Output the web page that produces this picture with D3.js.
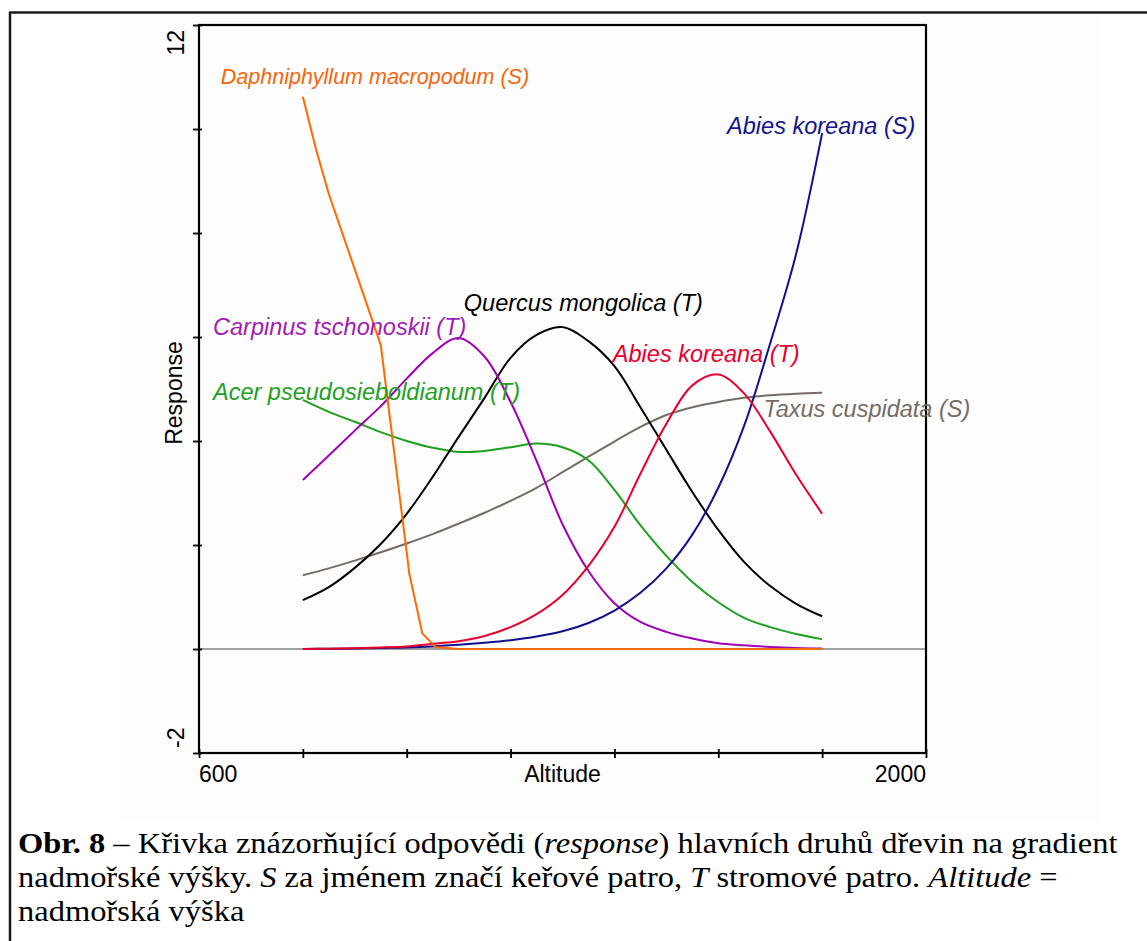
<!DOCTYPE html>
<html>
<head>
<meta charset="utf-8">
<script src="https://cdn.jsdelivr.net/npm/d3@7"></script>
<style>
  html, body { margin: 0; padding: 0; background: #ffffff; }
  svg { display: block; }
</style>
</head>
<body>
<svg id="chart" width="1147" height="941"></svg>
<script>
// Altitude grid (m a.s.l.) on which the fitted responses are tabulated
const altitudeGrid = [800, 850, 900, 950, 1000, 1050, 1100, 1150, 1200, 1250, 1300,
                      1350, 1400, 1450, 1500, 1550, 1600, 1650, 1700, 1750, 1800];

// Fitted responses of the main woody species
const carpinusT = [3.25, 3.72, 4.2, 4.67, 5.2, 5.69, 5.98, 5.62, 4.75, 3.62, 2.4,
                   1.5, 0.88, 0.52, 0.33, 0.2, 0.11, 0.07, 0.04, 0.02, 0.01];
const quercusT  = [0.94, 1.19, 1.56, 2.02, 2.6, 3.31, 4.08, 4.83, 5.6, 6.04, 6.19,
                   5.92, 5.44, 4.65, 3.83, 3.02, 2.29, 1.67, 1.21, 0.87, 0.63];
const acerT     = [4.79, 4.56, 4.37, 4.17, 4.0, 3.87, 3.79, 3.81, 3.88, 3.95, 3.88,
                   3.63, 3.06, 2.38, 1.79, 1.29, 0.9, 0.6, 0.42, 0.29, 0.19];
const taxusS    = [1.42, 1.55, 1.7, 1.86, 2.03, 2.21, 2.41, 2.62, 2.85, 3.1, 3.4,
                   3.7, 3.99, 4.27, 4.5, 4.65, 4.75, 4.83, 4.88, 4.91, 4.93];
const abiesT    = [0.0, 0.005, 0.015, 0.03, 0.05, 0.1, 0.15, 0.25, 0.42, 0.67, 1.04,
                   1.6, 2.35, 3.37, 4.33, 5.07, 5.28, 4.91, 4.18, 3.35, 2.6];
const abiesS    = [0.0, 0.005, 0.01, 0.02, 0.03, 0.05, 0.08, 0.12, 0.17, 0.24, 0.34,
                   0.5, 0.74, 1.08, 1.55, 2.2, 3.1, 4.3, 5.88, 7.6, 9.92];

// Daphniphyllum drops out quickly, so it has its own altitude points
const daphniAltitude = [800, 825, 850, 900, 950, 1005, 1030, 1055, 1100, 1800];
const daphniS        = [10.62, 9.62, 8.75, 7.3, 5.85, 1.45, 0.3, 0.04, 0.0, 0.0];

// Species names as printed beside the curves
const speciesNames = [
  "Daphniphyllum macropodum (S)",
  "Abies koreana (S)",
  "Quercus mongolica (T)",
  "Carpinus tschonoskii (T)",
  "Abies koreana (T)",
  "Acer pseudosieboldianum (T)",
  "Taxus cuspidata (S)"
];

// Axis ticks and tick labels
const yTicks = [12, 10, 8, 6, 4, 2, 0, -2];
const xTicks = [600, 800, 1000, 1200, 1400, 1600, 1800, 2000];
const yTickLabels = ["12", "-2"];
const xTickLabels = ["600", "2000"];
const xTitle = "Altitude";
const yTitle = "Response";

// ------------------------------------------------------------------
const svg = d3.select("#chart");
const W = 1147, H = 941;
const box = { left: 199, right: 926, top: 25, bottom: 753 };

const x = d3.scaleLinear().domain([600, 2000]).range([box.left, box.right]);
const y = d3.scaleLinear().domain([-2, 12]).range([box.bottom, box.top]);

// faint backdrop of the embedded figure
svg.append("rect").attr("x", 120).attr("y", 14).attr("width", 980).attr("height", 806)
  .attr("fill", "#fdfdfd");

// page frame (top and left rule)
svg.append("line").attr("x1", 9).attr("x2", W).attr("y1", 12.5).attr("y2", 12.5)
  .attr("stroke", "#1a1a1a").attr("stroke-width", 2.5);
svg.append("line").attr("x1", 10).attr("x2", 10).attr("y1", 12).attr("y2", H)
  .attr("stroke", "#1a1a1a").attr("stroke-width", 2.5);

const labelFont = "'Liberation Sans', Arial, sans-serif";

// zero reference line
svg.append("line")
  .attr("x1", x(600)).attr("x2", x(2000)).attr("y1", y(0)).attr("y2", y(0))
  .attr("stroke", "#808080").attr("stroke-width", 1.5);

// curves
const series = [
  { values: taxusS,    color: "#766c64" },
  { values: acerT,     color: "#1ea01e" },
  { values: quercusT,  color: "#000000" },
  { values: carpinusT, color: "#a000b4" },
  { values: abiesS,    color: "#10108c" },
  { values: abiesT,    color: "#e6002e" }
];

const smoothLine = d3.line()
  .x(d => x(d[0])).y(d => y(d[1]))
  .curve(d3.curveCatmullRom.alpha(0.5));

const plot = svg.append("g");
series.forEach(s => {
  plot.append("path")
    .datum(altitudeGrid.map((a, i) => [a, s.values[i]]))
    .attr("d", smoothLine)
    .attr("fill", "none")
    .attr("stroke", s.color)
    .attr("stroke-width", 2)
    .attr("stroke-linejoin", "round");
});

const straightLine = d3.line().x(d => x(d[0])).y(d => y(d[1]));
plot.append("path")
  .datum(daphniAltitude.map((a, i) => [a, daphniS[i]]))
  .attr("d", straightLine)
  .attr("fill", "none")
  .attr("stroke", "#ff6a00")
  .attr("stroke-width", 2)
  .attr("stroke-linejoin", "round");

// plot box
svg.append("rect")
  .attr("x", box.left).attr("y", box.top)
  .attr("width", box.right - box.left).attr("height", box.bottom - box.top)
  .attr("fill", "none").attr("stroke", "#000").attr("stroke-width", 2.2);

// axes (ticks crossing the frame)
const yAxis = svg.append("g").attr("transform", `translate(${box.left},0)`)
  .call(d3.axisLeft(y).tickValues(yTicks).tickSize(6).tickFormat(""));
yAxis.select(".domain").remove();
yAxis.selectAll(".tick line").attr("x1", 3).attr("stroke-width", 1.8);

const xAxis = svg.append("g").attr("transform", `translate(0,${box.bottom})`)
  .call(d3.axisBottom(x).tickValues(xTicks).tickSize(5).tickFormat(""));
xAxis.select(".domain").remove();
xAxis.selectAll(".tick line").attr("y1", -4).attr("stroke-width", 1.8);

// tick labels
const axisText = { "font-family": labelFont, "font-size": "23px", fill: "#000" };
function styled(sel, st) { Object.entries(st).forEach(([k, v]) => sel.attr(k, v)); return sel; }

styled(svg.append("text"), axisText)
  .attr("transform", `translate(183.5,${box.top + 5}) rotate(-90)`)
  .attr("text-anchor", "end").text(yTickLabels[0]);
styled(svg.append("text"), axisText)
  .attr("transform", `translate(183.5,${box.bottom - 5}) rotate(-90)`)
  .attr("text-anchor", "start").text(yTickLabels[1]);
styled(svg.append("text"), axisText)
  .attr("x", box.left).attr("y", 782).attr("text-anchor", "start").text(xTickLabels[0]);
styled(svg.append("text"), axisText)
  .attr("x", box.right).attr("y", 782).attr("text-anchor", "end").text(xTickLabels[1]);
styled(svg.append("text"), axisText)
  .attr("x", (box.left + box.right) / 2).attr("y", 782).attr("text-anchor", "middle").text(xTitle);
styled(svg.append("text"), axisText)
  .attr("transform", `translate(181.5,${(box.top + box.bottom) / 2 + 4}) rotate(-90)`)
  .attr("text-anchor", "middle").text(yTitle);

// species labels, anchored in data coordinates (altitude, response)
const labelSpots = [
  { alt: 642,  resp: 10.87, size: 21.5, color: "#f5650a" },
  { alt: 1617, resp: 9.9,   size: 23.5, color: "#14148c" },
  { alt: 1110, resp: 6.5,   size: 23.5, color: "#000000" },
  { alt: 627,  resp: 6.04,  size: 23.5, color: "#a01cb4" },
  { alt: 1397, resp: 5.51,  size: 23.5, color: "#e6002e" },
  { alt: 627,  resp: 4.78,  size: 23.5, color: "#22a022" },
  { alt: 1687, resp: 4.46,  size: 23.5, color: "#766c64" }
];
labelSpots.forEach((p, i) => {
  svg.append("text")
    .attr("x", x(p.alt)).attr("y", y(p.resp))
    .attr("font-family", labelFont).attr("font-size", p.size + "px")
    .attr("font-style", "italic").attr("fill", p.color)
    .text(speciesNames[i]);
});

// caption
const cap = svg.append("g").attr("font-family", "'Liberation Serif', 'Times New Roman', serif")
  .attr("font-size", "30px").attr("fill", "#000");
const l1 = cap.append("text").attr("x", 0).attr("y", 0);
l1.append("tspan").attr("font-weight", "bold").text("Obr. 8");
l1.append("tspan").text(" – Křivka znázorňující odpovědi (");
l1.append("tspan").attr("font-style", "italic").text("response");
l1.append("tspan").text(") hlavních druhů dřevin na gradient");
const l2 = cap.append("text").attr("x", 0).attr("y", 34);
l2.append("tspan").text("nadmořské výšky. ");
l2.append("tspan").attr("font-style", "italic").text("S");
l2.append("tspan").text(" za jménem značí keřové patro, ");
l2.append("tspan").attr("font-style", "italic").text("T");
l2.append("tspan").text(" stromové patro. ");
l2.append("tspan").attr("font-style", "italic").text("Altitude");
l2.append("tspan").text(" =");
cap.append("text").attr("x", 0).attr("y", 68).text("nadmořská výška");

const w1 = l1.node().getComputedTextLength();
const sx = 1100 / w1;
cap.attr("transform", `translate(18,853) scale(${sx},1)`);
</script>
</body>
</html>
